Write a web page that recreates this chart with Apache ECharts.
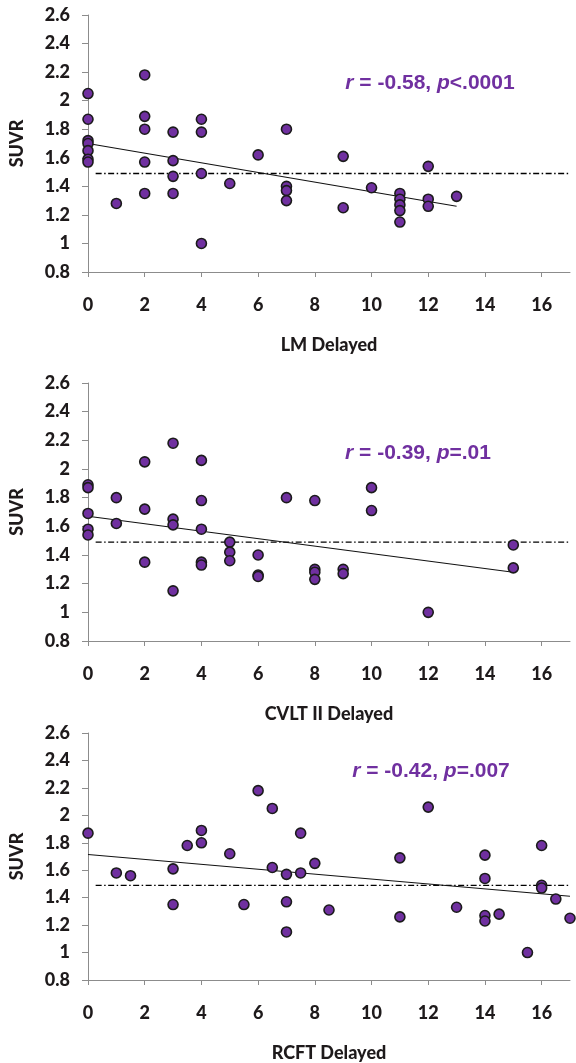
<!DOCTYPE html>
<html><head><meta charset="utf-8">
<script src="https://cdn.jsdelivr.net/npm/echarts@6/dist/echarts.min.js"></script>
<style>html,body{margin:0;padding:0;background:#fff}#c{width:576px;height:1063px}</style>
</head><body><div id="c"></div>
<script>
// ---- data ----
const xTicks = [0, 2, 4, 6, 8, 10, 12, 14, 16];
const yTicks = [0.8, 1, 1.2, 1.4, 1.6, 1.8, 2, 2.2, 2.4, 2.6];
const xNames = ['LM Delayed', 'CVLT II Delayed', 'RCFT Delayed'];
const yName = 'SUVR';
const stats = [
  ['-0.58', '<.0001'],
  ['-0.39', '=.01'],
  ['-0.42', '=.007']
];
const threshold = 1.49;

const lmPoints = [
  [0,2.05],[0,1.87],[0,1.72],[0,1.70],[0,1.65],[0,1.59],[0,1.57],
  [1,1.28],
  [2,2.18],[2,1.89],[2,1.80],[2,1.57],[2,1.35],
  [3,1.78],[3,1.58],[3,1.47],[3,1.35],
  [4,1.87],[4,1.78],[4,1.49],[4,1.00],
  [5,1.42],
  [6,1.62],
  [7,1.80],[7,1.40],[7,1.37],[7,1.30],
  [9,1.61],[9,1.25],
  [10,1.39],
  [11,1.35],[11,1.31],[11,1.27],[11,1.23],[11,1.15],
  [12,1.54],[12,1.31],[12,1.26],
  [13,1.33]
];
const cvltPoints = [
  [0,1.89],[0,1.87],[0,1.69],[0,1.58],[0,1.54],
  [1,1.80],[1,1.62],
  [2,2.05],[2,1.72],[2,1.35],
  [3,2.18],[3,1.65],[3,1.61],[3,1.15],
  [4,2.06],[4,1.78],[4,1.58],[4,1.35],[4,1.33],
  [5,1.49],[5,1.42],[5,1.36],
  [6,1.40],[6,1.26],[6,1.25],
  [7,1.80],
  [8,1.78],[8,1.30],[8,1.28],[8,1.23],
  [9,1.30],[9,1.27],
  [10,1.87],[10,1.71],
  [12,1.00],
  [15,1.47],[15,1.31]
];
const rcftPoints = [
  [0,1.87],
  [1,1.58],[1.5,1.56],
  [3,1.61],[3,1.35],
  [3.5,1.78],
  [4,1.89],[4,1.80],
  [5,1.72],
  [5.5,1.35],
  [6,2.18],
  [6.5,2.05],[6.5,1.62],
  [7,1.57],[7,1.37],[7,1.15],
  [7.5,1.87],[7.5,1.58],
  [8,1.65],
  [8.5,1.31],
  [11,1.69],[11,1.26],
  [12,2.06],
  [13,1.33],
  [14,1.71],[14,1.54],[14,1.27],[14,1.23],
  [14.5,1.28],
  [15.5,1.00],
  [16,1.78],[16,1.49],[16,1.47],
  [16.5,1.39],
  [17,1.25]
];
const fitLines = [
  [[0,1.70],[13,1.26]],
  [[0,1.67],[15,1.28]],
  [[0,1.715],[17,1.41]]
];
const refLine = [[0.27, threshold],[17, threshold]];
const allPoints = [lmPoints, cvltPoints, rcftPoints];

// ---- layout ----
const PURPLE = '#7030A0';
const TXT = '#1e1a1b';
const FONT = 'Lato';
const grids = [
  {left: 88, width: 482, top: 15, height: 257},
  {left: 88, width: 482, top: 383, height: 258},
  {left: 88, width: 482, top: 733, height: 256}
];
const annot = [[430, 83], [418, 453], [431, 771]];

const xAxis = [], yAxis = [], series = [], graphic = [];
for (let i = 0; i < 3; i++) {
  xAxis.push({
    type: 'value', gridIndex: i, min: 0, max: 17,
    name: xNames[i], nameLocation: 'middle', nameGap: 64,
    nameTextStyle: {fontFamily: FONT, fontWeight: 900, fontSize: 18, color: TXT},
    axisLine: {show: true, onZero: false, lineStyle: {color: '#8c8c8c', width: 1}},
    axisTick: {show: true, length: 5, customValues: xTicks, lineStyle: {color: '#8c8c8c'}},
    axisLabel: {customValues: xTicks, margin: 24, fontFamily: FONT, fontWeight: 900, fontSize: 18, color: TXT},
    splitLine: {show: false}
  });
  yAxis.push({
    type: 'value', gridIndex: i, min: 0.8, max: 2.6,
    name: yName, nameLocation: 'middle', nameGap: 62, nameRotate: 90,
    nameTextStyle: {fontFamily: FONT, fontWeight: 900, fontSize: 18, color: TXT},
    axisLine: {show: true, lineStyle: {color: '#8c8c8c', width: 1}},
    axisTick: {show: true, length: 6, customValues: yTicks, lineStyle: {color: '#8c8c8c'}},
    axisLabel: {customValues: yTicks, margin: 18, fontFamily: FONT, fontWeight: 900, fontSize: 18, color: TXT},
    splitLine: {show: false}
  });
  series.push({
    type: 'line', xAxisIndex: i, yAxisIndex: i, data: refLine, symbol: 'none', silent: true,
    lineStyle: {color: '#000', width: 1.3, type: [6, 2.5, 1.5, 2.5]}, z: 2
  });
  series.push({
    type: 'line', xAxisIndex: i, yAxisIndex: i, data: fitLines[i], symbol: 'none', silent: true,
    lineStyle: {color: '#111', width: 1.1}, z: 3
  });
  series.push({
    type: 'scatter', xAxisIndex: i, yAxisIndex: i, data: allPoints[i], symbolSize: 10,
    itemStyle: {color: PURPLE, borderColor: '#1b1b1b', borderWidth: 1.6, opacity: 1}, z: 4
  });
  graphic.push({
    type: 'text', x: annot[i][0], y: annot[i][1], z: 10,
    style: {
      text: '{i|r} = ' + stats[i][0] + ', {i|p}' + stats[i][1],
      align: 'center', verticalAlign: 'middle',
      fill: PURPLE, font: 'bold 21px "Liberation Sans", Arial, sans-serif',
      rich: {i: {fontStyle: 'italic', fontWeight: 'bold', fontSize: 21, fontFamily: '"Liberation Sans", Arial, sans-serif', fill: PURPLE}}
    }
  });
}

const chart = echarts.init(document.getElementById('c'), null, {renderer: 'canvas'});
chart.setOption({
  animation: false,
  backgroundColor: '#fff',
  grid: grids,
  xAxis, yAxis, series, graphic
});
</script></body></html>
